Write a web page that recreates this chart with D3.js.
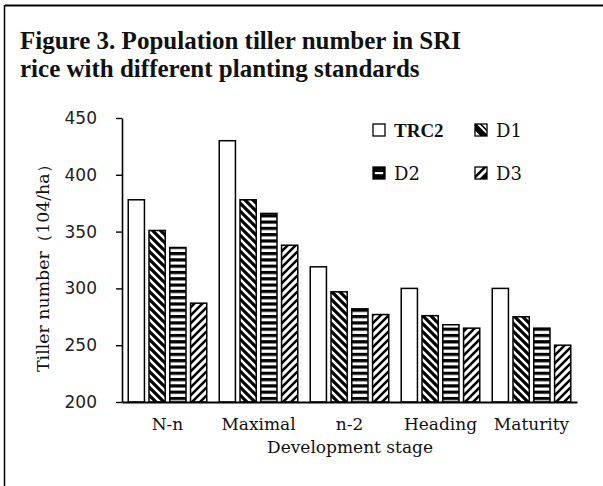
<!DOCTYPE html>
<html>
<head>
<meta charset="utf-8">
<script src="https://cdn.jsdelivr.net/npm/d3@7"></script>
<style>
  html, body { margin: 0; padding: 0; background: #fff; }
  svg { display: block; }
</style>
</head>
<body>
<svg id="chart" width="603" height="486"></svg>
<script>
const titleLines = ["Figure 3. Population tiller number in SRI", "rice with different planting standards"];
const categories = ["N-n", "Maximal", "n-2", "Heading", "Maturity"];
const series = ["TRC2", "D1", "D2", "D3"];
const valuesTRC2 = [378, 430, 319, 300, 300];
const valuesD1 = [351, 378, 297, 276, 275];
const valuesD2 = [336, 366, 282, 268, 265];
const valuesD3 = [287, 338, 277, 265, 250];
const yTicks = [200, 250, 300, 350, 400, 450];
const yLabel = "Tiller number（104/ha）";
const xLabel = "Development stage";

const seriesValues = [valuesTRC2, valuesD1, valuesD2, valuesD3];

const svg = d3.select("#chart");

// frame
svg.append("line").attr("x1", 5).attr("x2", 603).attr("y1", 5.5).attr("y2", 5.5)
  .attr("stroke", "#000").attr("stroke-width", 2);
svg.append("line").attr("x1", 4.5).attr("x2", 4.5).attr("y1", 5).attr("y2", 486)
  .attr("stroke", "#000").attr("stroke-width", 1.5);

// title
svg.append("g").selectAll("text").data(titleLines).join("text")
  .attr("x", 20).attr("y", (d, i) => 49 + i * 28)
  .attr("font-family", "'Liberation Serif', serif")
  .attr("font-weight", "bold").attr("font-size", 25)
  .attr("fill", "#111")
  .text(d => d);

// patterns
const defs = svg.append("defs");
const pD1 = defs.append("pattern").attr("id", "pD1").attr("patternUnits", "userSpaceOnUse")
  .attr("width", 8).attr("height", 8);
pD1.append("rect").attr("width", 8).attr("height", 8).attr("fill", "#fff");
pD1.append("path").attr("d", "M-2,-2 L10,10 M-6,2 L2,10 M6,-2 L14,6")
  .attr("stroke", "#000").attr("stroke-width", 3.2);

const pD2 = defs.append("pattern").attr("id", "pD2").attr("patternUnits", "userSpaceOnUse")
  .attr("width", 8).attr("height", 6.3);
pD2.append("rect").attr("width", 8).attr("height", 6.3).attr("fill", "#fff");
pD2.append("rect").attr("y", 0).attr("width", 8).attr("height", 3.2).attr("fill", "#000");

const pD3 = defs.append("pattern").attr("id", "pD3").attr("patternUnits", "userSpaceOnUse")
  .attr("width", 8).attr("height", 8);
pD3.append("rect").attr("width", 8).attr("height", 8).attr("fill", "#fff");
pD3.append("path").attr("d", "M-2,10 L10,-2 M-6,6 L2,-2 M6,10 L14,2")
  .attr("stroke", "#000").attr("stroke-width", 2.6);

// legend-specific swatch patterns
const lD1 = defs.append("pattern").attr("id", "lD1").attr("patternUnits", "objectBoundingBox")
  .attr("patternContentUnits", "objectBoundingBox").attr("width", 1).attr("height", 1);
lD1.append("rect").attr("width", 1).attr("height", 1).attr("fill", "#fff");
lD1.append("path").attr("d", "M0,0 L0.55,0 L1,0.45 L1,1 L0.45,1 L0,0.55 Z").attr("fill", "#000");
lD1.append("path").attr("d", "M0.25,0.0 L1,0.75").attr("stroke", "#fff").attr("stroke-width", 0.16);

const lD2 = defs.append("pattern").attr("id", "lD2").attr("patternUnits", "objectBoundingBox")
  .attr("patternContentUnits", "objectBoundingBox").attr("width", 1).attr("height", 1);
lD2.append("rect").attr("width", 1).attr("height", 1).attr("fill", "#000");
lD2.append("rect").attr("x", 0.15).attr("y", 0.42).attr("width", 0.7).attr("height", 0.18).attr("fill", "#fff");

const lD3 = defs.append("pattern").attr("id", "lD3").attr("patternUnits", "objectBoundingBox")
  .attr("patternContentUnits", "objectBoundingBox").attr("width", 1).attr("height", 1);
lD3.append("rect").attr("width", 1).attr("height", 1).attr("fill", "#fff");
lD3.append("path").attr("d", "M1,0.35 L1,1 L0.35,1 Z").attr("fill", "#000");
lD3.append("path").attr("d", "M0,0.7 L0.7,0 L1,0 L0,1 Z").attr("fill", "#000");

const barFills = ["#fff", "url(#pD1)", "url(#pD2)", "url(#pD3)"];
const legendFills = ["#fff", "url(#lD1)", "url(#lD2)", "url(#lD3)"];

// scales
const x0 = d3.scaleBand().domain(categories).range([122, 577]).padding(0);
const x1 = d3.scaleBand().domain(series).range([0, x0.bandwidth()])
  .paddingInner(0.22).paddingOuter(0.3);
const y = d3.scaleLinear().domain([200, 450]).range([402, 118]);

// bars
const groups = svg.append("g").selectAll("g").data(categories).join("g")
  .attr("transform", d => `translate(${x0(d)},0)`);
groups.selectAll("rect")
  .data((c, ci) => series.map((s, si) => ({ s, si, v: seriesValues[si][ci] })))
  .join("rect")
  .attr("x", d => x1(d.s))
  .attr("width", x1.bandwidth())
  .attr("y", d => y(d.v))
  .attr("height", d => y(200) - y(d.v))
  .attr("fill", d => barFills[d.si])
  .attr("stroke", "#000").attr("stroke-width", 1.5);

// y axis
const yAxis = svg.append("g").attr("transform", "translate(122,0)")
  .call(d3.axisLeft(y).tickValues(yTicks).tickSize(6).tickSizeOuter(0).tickPadding(19));
yAxis.select(".domain").attr("stroke", "#000").attr("stroke-width", 1.6);
yAxis.selectAll(".tick line").attr("stroke", "#000").attr("stroke-width", 1.4);
yAxis.selectAll(".tick text")
  .attr("font-family", "'DejaVu Sans', sans-serif").attr("font-size", 17)
  .attr("fill", "#222");

// x axis
const xAxis = svg.append("g").attr("transform", "translate(0,402)")
  .call(d3.axisBottom(x0).tickSize(0).tickPadding(16));
xAxis.select(".domain").attr("stroke", "#000").attr("stroke-width", 1.8);
xAxis.selectAll(".tick text")
  .attr("font-family", "'DejaVu Serif', serif").attr("font-size", 17)
  .attr("fill", "#111");

// axis titles
svg.append("text")
  .attr("x", 350).attr("y", 453)
  .attr("text-anchor", "middle")
  .attr("font-family", "'DejaVu Serif', serif").attr("font-size", 16)
  .attr("textLength", 166).attr("lengthAdjust", "spacingAndGlyphs")
  .attr("fill", "#111")
  .text(xLabel);

svg.append("text")
  .attr("transform", "translate(49,264) rotate(-90)")
  .attr("text-anchor", "middle")
  .attr("font-family", "'DejaVu Serif', serif").attr("font-size", 16)
  .attr("textLength", 216).attr("lengthAdjust", "spacingAndGlyphs")
  .attr("fill", "#111")
  .text(yLabel);

// legend
const legendPos = [[373, 130], [475, 130], [373, 173], [475, 173]];
const lg = svg.append("g").selectAll("g").data(series).join("g")
  .attr("transform", (d, i) => `translate(${legendPos[i][0]},${legendPos[i][1]})`);
lg.append("rect").attr("x", 0).attr("y", -6).attr("width", 12).attr("height", 12)
  .attr("fill", (d, i) => legendFills[i]).attr("stroke", "#000").attr("stroke-width", 1.3);
lg.append("text").attr("x", 21).attr("y", 7)
  .attr("font-family", (d, i) => i === 0 ? "'Liberation Serif', serif" : "'DejaVu Serif', serif")
  .attr("font-weight", (d, i) => i === 0 ? "bold" : "normal")
  .attr("font-size", (d, i) => i === 0 ? 19 : 18)
  .attr("fill", "#111")
  .text(d => d);
</script>
</body>
</html>
